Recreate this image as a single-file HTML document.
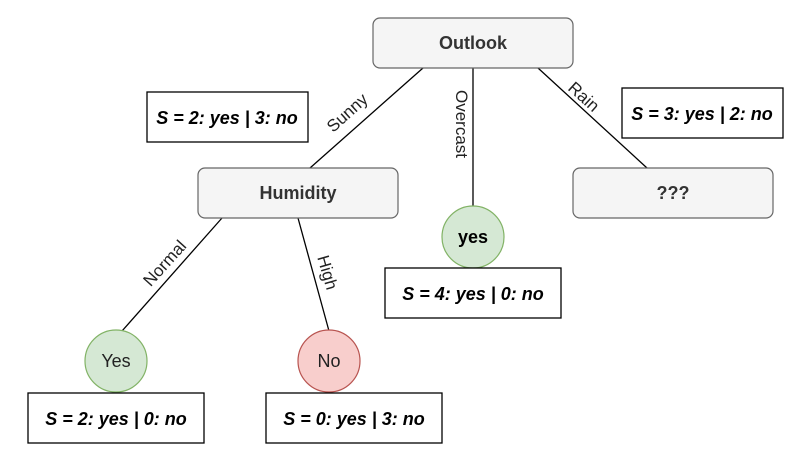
<!DOCTYPE html>
<html><head><style>body{margin:0;background:#fff}</style></head><body>
<svg width="810" height="467" xmlns="http://www.w3.org/2000/svg" font-family="Liberation Sans, Arial, sans-serif">
<rect width="810" height="467" fill="#fff"/>
<g stroke="#000" stroke-width="1.3" fill="none">
<line x1="423" y1="68" x2="310" y2="168"/>
<line x1="473" y1="68" x2="473" y2="206"/>
<line x1="538" y1="68" x2="647" y2="168"/>
<line x1="222" y1="218" x2="122" y2="331"/>
<line x1="298" y1="218" x2="329" y2="331"/>
</g>
<g fill="#f5f5f5" stroke="#666" stroke-width="1.2">
<rect x="373" y="18" width="200" height="50" rx="7"/>
<rect x="198" y="168" width="200" height="50" rx="7"/>
<rect x="573" y="168" width="200" height="50" rx="7"/>
</g>
<circle cx="473" cy="237" r="31" fill="#d5e8d4" stroke="#82b366" stroke-width="1.2"/>
<circle cx="116" cy="361" r="31" fill="#d5e8d4" stroke="#82b366" stroke-width="1.2"/>
<circle cx="329" cy="361" r="31" fill="#f8cecc" stroke="#b85450" stroke-width="1.2"/>
<g fill="#fff" stroke="#000" stroke-width="1.3">
<rect x="147" y="92" width="161" height="50"/>
<rect x="622" y="88" width="161" height="50"/>
<rect x="385" y="268" width="176" height="50"/>
<rect x="28" y="393" width="176" height="50"/>
<rect x="266" y="393" width="176" height="50"/>
</g>
<g font-size="18" font-weight="bold" fill="#333" text-anchor="middle">
<text x="473" y="49">Outlook</text>
<text x="298" y="199">Humidity</text>
<text x="673" y="199">???</text>
<text x="473" y="243" fill="#000">yes</text>
</g>
<g font-size="18" text-anchor="middle" fill="#222">
<text x="116" y="367">Yes</text>
<text x="329" y="367">No</text>
</g>
<g font-size="18" font-weight="bold" font-style="italic" text-anchor="middle">
<text x="227" y="124">S = 2: yes | 3: no</text>
<text x="702" y="120">S = 3: yes | 2: no</text>
<text x="473" y="300">S = 4: yes | 0: no</text>
<text x="116" y="425">S = 2: yes | 0: no</text>
<text x="354" y="425">S = 0: yes | 3: no</text>
</g>
<g font-size="17" fill="#222" text-anchor="middle">
<text transform="translate(351,117) rotate(-42)">Sunny</text>
<text transform="translate(456,124) rotate(90)">Overcast</text>
<text transform="translate(580,101) rotate(42)">Rain</text>
<text transform="translate(169,267) rotate(-48)">Normal</text>
<text transform="translate(322,274) rotate(74)">High</text>
</g>
</svg>
</body></html>
